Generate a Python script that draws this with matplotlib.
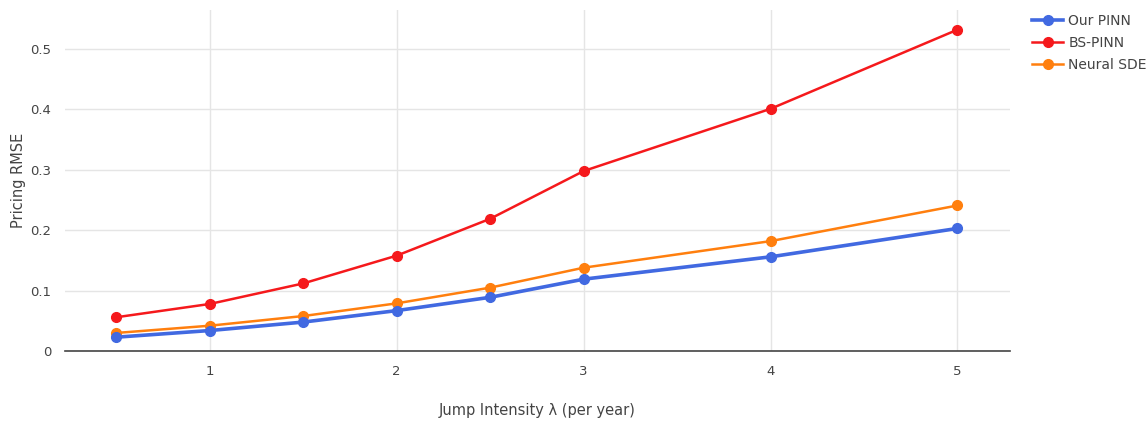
import matplotlib.pyplot as plt
from matplotlib.ticker import FuncFormatter

# Dados
intensidade = [0.5, 1, 1.5, 2, 2.5, 3, 4, 5]
rmse_nosso = [0.023, 0.034, 0.048, 0.067, 0.089, 0.119, 0.156, 0.203]
rmse_bs = [0.056, 0.078, 0.112, 0.158, 0.219, 0.298, 0.401, 0.532]
rmse_sde = [0.030, 0.042, 0.058, 0.079, 0.105, 0.138, 0.182, 0.241]

plt.rcParams['font.family'] = ['DejaVu Sans']

fig = plt.figure(figsize=(11.48, 4.24), dpi=100)
ax = fig.add_axes([0.0566, 0.172, 0.823, 0.805])

ax.plot(intensidade, rmse_nosso, color='#4169E1', lw=2.6, marker='o', ms=7, label='Our PINN', zorder=5)
ax.plot(intensidade, rmse_bs, color='#F5191C', lw=1.8, marker='o', ms=7, label='BS-PINN', zorder=4)
ax.plot(intensidade, rmse_sde, color='#FF7F0E', lw=1.8, marker='o', ms=7, label='Neural SDE', zorder=4)

ax.set_xlim(0.225, 5.28)
ax.set_ylim(0, 0.565)
ax.set_xticks([1, 2, 3, 4, 5])
ax.set_yticks([0, 0.1, 0.2, 0.3, 0.4, 0.5])
ax.yaxis.set_major_formatter(FuncFormatter(lambda v, p: '0' if v == 0 else f'{v:.1f}'))

ax.grid(True, color='#E5E5E5', lw=1)
ax.set_axisbelow(True)
for s in ['top', 'right', 'left']:
    ax.spines[s].set_visible(False)
ax.spines['bottom'].set_color('#444444')
ax.spines['bottom'].set_linewidth(1.2)
ax.tick_params(length=0, labelsize=9.5, colors='#444444', pad=10)

ax.set_xlabel('Jump Intensity λ (per year)', fontsize=10.5, color='#444444', va='center')
ax.set_ylabel('Pricing RMSE', fontsize=10.5, color='#444444', va='center')
ax.xaxis.set_label_coords(0.5, -0.173)
ax.yaxis.set_label_coords(-0.0497, 0.5)

ax.legend(loc='upper left', bbox_to_anchor=(1.018, 1.005), frameon=False, fontsize=10,
          handlelength=2.2, handletextpad=0.4, labelspacing=0.6, labelcolor='#444444',
          borderaxespad=0)

fig.savefig('out.png', dpi=100)
